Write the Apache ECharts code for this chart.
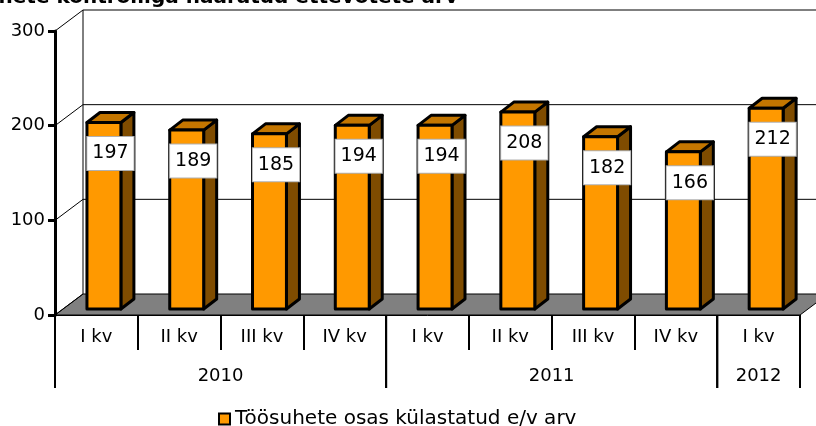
<!DOCTYPE html>
<html>
<head>
<meta charset="utf-8">
<script src="https://cdn.jsdelivr.net/npm/echarts@6/dist/echarts.min.js"></script>
<style>
html,body{margin:0;padding:0;background:#fff;}
#chart{width:816px;height:426px;}
</style>
</head>
<body>
<div id="chart"></div>
<script>
const titleText = 'Töösuhete kontrolliga haaratud ettevõtete arv';
const seriesName = 'Töösuhete osas külastatud e/v arv';
const quarters = ['I kv','II kv','III kv','IV kv','I kv','II kv','III kv','IV kv','I kv'];
const values = [197,189,185,194,194,208,182,166,212];
const yTicks = [0,100,200,300];
const years = ['2010','2011','2012'];
const yearStart = [0,4,8];
const yearEnd = [3,7,8];

const FONT = 'DejaVu Sans';
const DX = 28, DY = -21;      // depth of floor / wall
const BDX = 13, BDY = -10;    // depth of a bar
const chart = echarts.init(document.getElementById('chart'), null, {renderer:'canvas'});

function wallItem(params, api){
  if (params.dataIndex !== 0) return null;
  const bw = api.size([1,0])[0];
  const x0 = api.coord([0,0])[0] - bw/2;
  const x1 = api.coord([quarters.length-1,0])[0] + bw/2;
  const y0 = api.coord([0,0])[1];
  const yTop = api.coord([0,yTicks[yTicks.length-1]])[1];
  const children = [];
  children.push({type:'polygon', shape:{points:[[x0,y0],[x1,y0],[x1+DX,y0+DY],[x0+DX,y0+DY]]},
    style:{fill:'#808080', stroke:'#000', lineWidth:1}});
  yTicks.forEach(t=>{
    const y = api.coord([0,t])[1];
    children.push({type:'line', shape:{x1:x0,y1:y,x2:x0+DX,y2:y+DY}, style:{stroke:'#000',lineWidth:1}});
    if (t !== 0) children.push({type:'line', shape:{x1:x0+DX,y1:y+DY,x2:x1+DX+40,y2:y+DY}, style:{stroke:'#000',lineWidth:1}});
  });
  children.push({type:'line', shape:{x1:x0+DX,y1:yTop+DY,x2:x0+DX,y2:y0+DY}, style:{stroke:'#000',lineWidth:1}});
  return {type:'group', children};
}

function barItem(params, api){
  const i = api.value(0), v = api.value(1);
  const top = api.coord([i, v]);
  const base = api.coord([i, 0]);
  const bw = api.size([1,0])[0];
  const W = bw*0.41;
  const L = top[0] - bw*0.114;
  const R = L + W;
  const yT = top[1] - 6;
  const yB = base[1] - 6;
  const st = {stroke:'#000', lineWidth:3, lineJoin:'round'};
  return {type:'group', children:[
    {type:'polygon', shape:{points:[[R,yT],[R+BDX,yT+BDY],[R+BDX,yB+BDY],[R,yB]]}, style:Object.assign({fill:'#7F4C00'},st)},
    {type:'polygon', shape:{points:[[L,yT],[L+BDX,yT+BDY],[R+BDX,yT+BDY],[R,yT]]}, style:Object.assign({fill:'#C47600'},st)},
    {type:'rect', shape:{x:L,y:yT,width:W,height:yB-yT}, style:Object.assign({fill:'#FF9900'},st)},
    {type:'text', x:L+(W+BDX)/2, y:yT+31, z2:10, style:{text:String(v), font:'19px '+FONT, fill:'#000',
      align:'center', verticalAlign:'middle', backgroundColor:'#fff', borderColor:'#b0b0b0', borderWidth:1,
      padding:[6,5,6,5], lineHeight:21}}
  ]};
}

function yearItem(params, api){
  const k = params.dataIndex;
  const bw = api.size([1,0])[0];
  const xs = api.coord([yearStart[k],0])[0] - bw/2;
  const xe = api.coord([yearEnd[k],0])[0] + bw/2;
  const y0 = api.coord([0,0])[1];
  const st = {stroke:'#000', lineWidth:2};
  return {type:'group', children:[
    {type:'line', shape:{x1:xs,y1:y0,x2:xs,y2:y0+73}, style:st},
    {type:'line', shape:{x1:xe,y1:y0,x2:xe,y2:y0+73}, style:st},
    {type:'text', x:(xs+xe)/2, y:y0+61, style:{text:years[k], font:'18px '+FONT, fill:'#000', align:'center', verticalAlign:'middle'}}
  ]};
}

chart.setOption({
  animation:false,
  backgroundColor:'#fff',
  graphic:[{type:'text', x:458, y:8, style:{text:titleText, font:'bold 20px '+FONT, fill:'#000', textAlign:'right', textVerticalAlign:'bottom'}}],
  grid:{left:55, right:16, top:31, bottom:111, containLabel:false},
  legend:{data:[seriesName], left:213, top:404, icon:'rect', itemWidth:11, itemHeight:11, itemGap:5,
    itemStyle:{color:'#FF9900', borderColor:'#000', borderWidth:2},
    textStyle:{fontFamily:FONT, fontSize:20, color:'#000'}},
  xAxis:{type:'category', data:quarters, boundaryGap:true, z:5,
    axisLine:{show:true, lineStyle:{color:'#000', width:1}},
    axisTick:{show:true, interval:0, length:35, lineStyle:{color:'#000', width:2}},
    axisLabel:{interval:0, margin:13, fontFamily:FONT, fontSize:18, color:'#000'},
    splitLine:{show:false}},
  yAxis:{type:'value', min:0, max:300, interval:100, z:10,
    axisLine:{show:true, lineStyle:{color:'#000', width:3}},
    axisTick:{show:true, length:7, lineStyle:{color:'#000', width:3}},
    axisLabel:{margin:10, fontFamily:FONT, fontSize:18, color:'#000'},
    splitLine:{show:false}},
  series:[
    {type:'custom', silent:true, z:1, renderItem:wallItem, encode:{x:0,y:1}, data:yTicks.map(t=>[0,t])},
    {type:'custom', name:seriesName, z:3, renderItem:barItem, encode:{x:0,y:1},
      itemStyle:{color:'#FF9900', borderColor:'#000', borderWidth:2},
      data:values.map((v,i)=>[i,v])},
    {type:'custom', silent:true, z:4, clip:false, renderItem:yearItem, encode:{x:0,y:1}, data:years.map((y,k)=>[yearStart[k],0])}
  ]
});
</script>
</body>
</html>
